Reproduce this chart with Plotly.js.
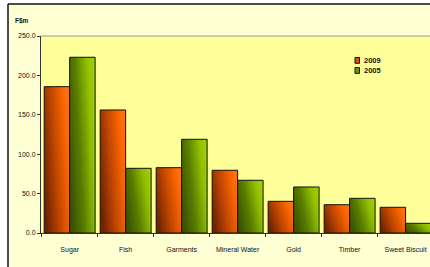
<!DOCTYPE html>
<html>
<head>
<meta charset="utf-8">
<script src="https://cdn.plot.ly/plotly-3.0.1.min.js"></script>
<style>
html,body{margin:0;padding:0;background:#fff;}
#chart{width:430px;height:267px;}
</style>
</head>
<body>
<div id="chart"></div>
<script>
var categories = ["Sugar","Fish","Garments","Mineral Water","Gold","Timber","Sweet Biscuit"];
var seriesNames = ["2009","2005"];
var values2009 = [185.7,156.1,82.9,79.6,40.2,35.9,32.6];
var values2005 = [223.0,82.1,118.9,66.9,58.4,44.0,12.3];
var yTickValues = [0,50,100,150,200,250];
var yTickLabels = ["0.0","50.0","100.0","150.0","200.0","250.0"];
var unitLabel = "F$m";

var FONT = "'Liberation Sans', Arial, sans-serif";
var baseColors = ["#d4540a","#6f9a00"];

var W = 430, H = 267;
var L = 41, R = 0, T = 36, B = 34;
var pw = W - L - R, ph = H - T - B;
function px(x){ return (x - L) / pw; }
function py(y){ return (H - B - y) / ph; }

var traces = [values2009, values2005].map(function(v, i){
  return {
    type: 'bar', x: categories, y: v, name: seriesNames[i],
    marker: {color: baseColors[i], line: {color: '#111', width: 1}},
    hoverinfo: 'none'
  };
});

var shapes = [
  {type:'rect', xref:'paper', yref:'paper', x0:-1, x1:px(8), y0:-1, y1:2, fillcolor:'#ffffff', line:{width:0}, layer:'above'},
  {type:'rect', xref:'paper', yref:'paper', x0:-1, x1:2, y0:py(4), y1:2, fillcolor:'#ffffff', line:{width:0}, layer:'above'},
  {type:'line', xref:'paper', yref:'paper', x0:px(8), x1:px(8), y0:-1, y1:py(4), line:{color:'#111', width:1.5}, layer:'above'},
  {type:'line', xref:'paper', yref:'paper', x0:px(8), x1:2, y0:py(4), y1:py(4), line:{color:'#111', width:1.5}, layer:'above'},
  {type:'line', xref:'paper', yref:'paper', x0:0, x1:1, y0:1, y1:1, line:{color:'#999', width:1}, layer:'above'}
];

var annotations = [
  {xref:'paper', yref:'paper', x:px(22), y:py(21), text:'<b>'+unitLabel+'</b>', showarrow:false,
   font:{family:FONT, size:6.5, color:'#111'}, xanchor:'center', yanchor:'middle'}
];

// custom compact legend built from series names
var legendY = [60.4, 70.5];
seriesNames.forEach(function(n, i){
  shapes.push({type:'rect', xref:'paper', yref:'paper', x0:px(355), x1:px(359.5),
    y0:py(legendY[i]+2.9), y1:py(legendY[i]-2.9), fillcolor:baseColors[i],
    line:{color:'#111', width:1}, layer:'above'});
  annotations.push({xref:'paper', yref:'paper', x:px(361.5), y:py(legendY[i]), text:'<b>'+n+'</b>',
    showarrow:false, xanchor:'left', yanchor:'middle', font:{family:FONT, size:7.5, color:'#111'}});
});

var layout = {
  width: W, height: H,
  margin: {l:L, r:R, t:T, b:B, pad:0},
  paper_bgcolor: '#ffffd4',
  plot_bgcolor: '#ffff99',
  showlegend: false,
  barmode: 'group',
  bargap: 0.09,
  bargroupgap: 0,
  font: {family: FONT, size: 7, color: '#111'},
  xaxis: {
    type: 'category', range: [-0.512, 6.436], fixedrange: true,
    showline: true, linecolor: '#333', linewidth: 1,
    ticks: 'outside', ticklen: 3, tickcolor: '#333', tickson: 'boundaries',
    tickangle: 0, ticklabelstandoff: 10, showgrid: false, zeroline: false,
    tickfont: {family: FONT, size: 7, color: '#111'}
  },
  yaxis: {
    range: [0, 250], fixedrange: true,
    tickvals: yTickValues, ticktext: yTickLabels,
    showline: true, linecolor: '#333', linewidth: 1,
    ticks: 'outside', ticklen: 3, tickcolor: '#333',
    showgrid: false, zeroline: false,
    tickfont: {family: FONT, size: 7, color: '#111'}
  },
  shapes: shapes,
  annotations: annotations
};

Plotly.newPlot('chart', traces, layout, {staticPlot: true, displayModeBar: false}).then(function(gd){
  var svg = gd.querySelector('.main-svg');
  var ns = 'http://www.w3.org/2000/svg';
  var defs = document.createElementNS(ns, 'defs');
  var grads = [
    {id:'gOrange', stops:[[0,'#6e2200'],[0.4,'#b84200'],[0.8,'#f56200'],[1,'#ff7010']]},
    {id:'gGreen', stops:[[0,'#3a5200'],[0.4,'#587c00'],[0.8,'#8fbe00'],[1,'#9fcc00']]}
  ];
  grads.forEach(function(g){
    var lg = document.createElementNS(ns, 'linearGradient');
    lg.setAttribute('id', g.id);
    lg.setAttribute('x1','0'); lg.setAttribute('y1','0.7');
    lg.setAttribute('x2','1'); lg.setAttribute('y2','0.3');
    g.stops.forEach(function(s){
      var st = document.createElementNS(ns, 'stop');
      st.setAttribute('offset', s[0]);
      st.setAttribute('stop-color', s[1]);
      lg.appendChild(st);
    });
    defs.appendChild(lg);
  });
  svg.insertBefore(defs, svg.firstChild);
  var groups = gd.querySelectorAll('.barlayer .trace.bars');
  groups.forEach(function(grp, i){
    grp.querySelectorAll('.point path').forEach(function(p){
      p.style.fill = 'url(#' + grads[i].id + ')';
    });
  });
});
</script>
</body>
</html>
